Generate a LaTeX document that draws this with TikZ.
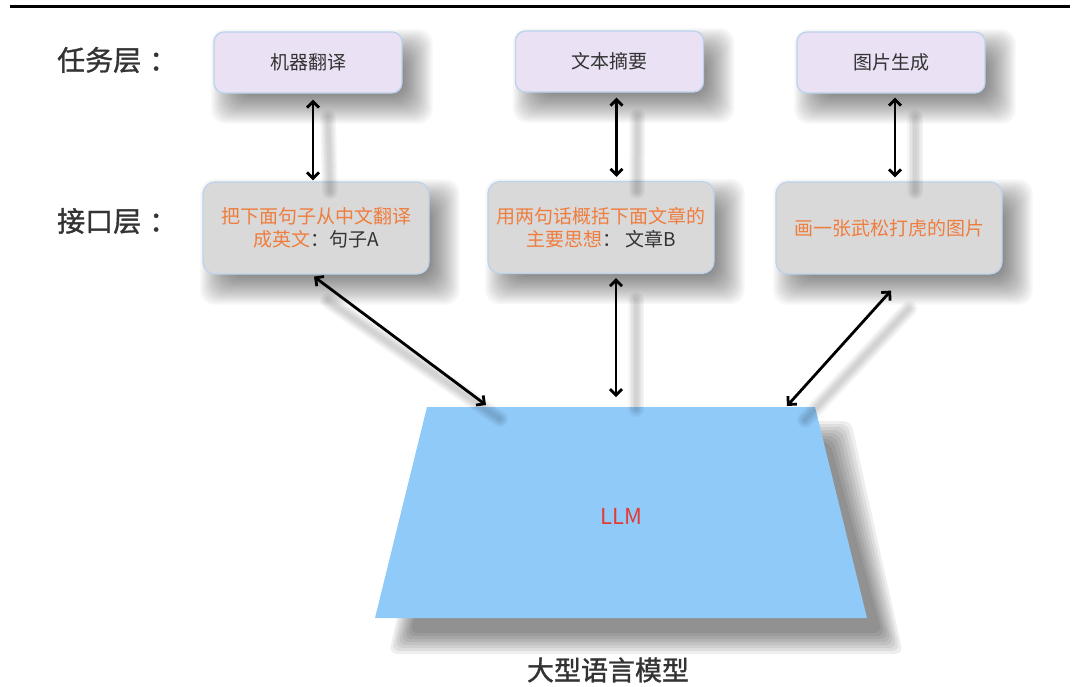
\documentclass[tikz,border=0pt]{standalone}
\usepackage{fontspec}
\newfontfamily\cjk{Noto Sans CJK SC}
\newfontfamily\cjkb[FakeBold=1.2]{Noto Sans CJK SC}
\usetikzlibrary{arrows.meta,calc}
\pgfdeclarelayer{bg}
\pgfsetlayers{bg,main}
\definecolor{lav}{HTML}{EAE1F4}
\definecolor{bord}{HTML}{BAD3EC}
\definecolor{gbox}{HTML}{D9D9D9}
\definecolor{org}{HTML}{EF7D3E}
\definecolor{txt}{HTML}{333333}
\definecolor{llmblue}{HTML}{90CAF9}
\definecolor{llmred}{HTML}{E53935}
\newcommand\boxshade[1]{%
  \foreach \e in {-12,-10,...,16}{
    \fill[black, opacity=0.035, rounded corners=14pt]
      ($(#1.north west)+(14-\e,14-\e)$) rectangle ($(#1.south east)+(14+\e,14+\e)$);
  }}
\begin{document}
\begin{tikzpicture}[x=1pt,y=-1pt,
  taskbox/.style={draw=bord, line width=1.2pt, fill=lav, rounded corners=10pt,
    minimum width=188pt, minimum height=61pt, inner sep=0pt,
    font=\cjk\fontsize{19}{23}\selectfont, text=txt},
  ifbox/.style={draw=bord, line width=1.2pt, fill=gbox, rounded corners=12pt,
    minimum width=226pt, minimum height=92pt, inner sep=0pt, align=center,
    font=\cjk\fontsize{19}{23}\selectfont, text=org},
  lbl/.style={font=\cjkb\fontsize{28}{30}\selectfont, text=txt, anchor=west, inner sep=0pt},
  arr/.style={line width=2.8pt, draw=black, {Straight Barb[length=6pt,width=12pt]}-{Straight Barb[length=6pt,width=12pt]}},
  ashade/.style={line width=#1, draw=black, opacity=0.035, line cap=round},
]
\begin{pgfonlayer}{bg}
\useasboundingbox (0,0) rectangle (1077,686);
\fill[white] (0,0) rectangle (1077,686);
\end{pgfonlayer}
\draw[line width=3pt] (10,6) -- (1070,6);

% labels
\node[lbl] (lt) at (57,60) {任务层\kern8pt：};
\node[lbl] (li) at (57,221) {接口层\kern8pt：};

% task boxes
\node[taskbox] (t1) at (308,62.5) {机器翻译};
\node[taskbox] (t2) at (609.5,61.5) {文本摘要};
\node[taskbox] (t3) at (891,62.5) {图片生成};

% interface boxes
\node[ifbox] (i1) at (316,228) {把下面句子从中文翻译\\成英文{\color{txt}：句子A}};
\node[ifbox] (i2) at (601,227.5) {用两句话概括下面文章的\\主要思想{\color{txt} ： 文章B}};
\node[ifbox] (i3) at (889,228) {画一张武松打虎的图片};

\begin{pgfonlayer}{bg}
\boxshade{t1}\boxshade{t2}\boxshade{t3}
\boxshade{i1}\boxshade{i2}\boxshade{i3}
% trapezoid shadow
\foreach \e in {-10,-7,...,11}{
  \fill[black, opacity=0.065, rounded corners=8pt]
    (427+25-\e,407+25-\e) -- (815+25+\e,407+25-\e) -- (867+25+\e,618+25+\e) -- (375+25-\e,618+25+\e) -- cycle;
}
\end{pgfonlayer}

% LLM trapezoid
\coordinate (p1) at (427,407);
\coordinate (p2) at (815,407);
\coordinate (p3) at (867,618);
\coordinate (p4) at (375,618);
\fill[llmblue] (p1) -- (p2) -- (p3) -- (p4) -- cycle;
\node[font=\cjk\fontsize{22}{24}\selectfont, text=llmred, inner sep=0pt] (llm) at (621,516) {LLM};
\node[font=\cjkb\fontsize{27}{30}\selectfont, text=txt, inner sep=0pt] (cap) at (608,670) {大型语言模型};

\coordinate (e1) at (486,405);
\coordinate (e2) at (616,397);
\coordinate (e3) at (787,406);

% arrow shadows (soft)
\foreach \w in {16pt,13pt,10pt,7pt,4pt}{
  \draw[ashade=\w] ([xshift=20pt,yshift=-24pt]t1.south) -- ([xshift=14pt,yshift=-10pt]i1.north);
  \draw[ashade=\w] ([xshift=28pt,yshift=-24pt]t2.south) -- ([xshift=36pt,yshift=-10pt]i2.north);
  \draw[ashade=\w] ([xshift=24pt,yshift=-24pt]t3.south) -- ([xshift=26pt,yshift=-10pt]i3.north);
  \draw[ashade=\w] ([xshift=12pt,yshift=-26pt]i1.south) -- ([xshift=14pt,yshift=-14pt]e1);
  \draw[ashade=\w] ([xshift=35pt,yshift=-26pt]i2.south) -- ([xshift=20pt,yshift=-12pt]e2);
  \draw[ashade=\w] ([xshift=20pt,yshift=-34pt]i3.south) -- ([xshift=18pt,yshift=-14pt]e3);
}

% arrows
\draw[arr] ([xshift=5pt,yshift=-6pt]t1.south) -- ([xshift=-3pt,yshift=1pt]i1.north);
\draw[arr] ([xshift=7pt,yshift=-5pt]t2.south) -- ([xshift=15.5pt,yshift=4pt]i2.north);
\draw[arr] ([xshift=4pt,yshift=-4pt]t3.south) -- ([xshift=6pt,yshift=4pt]i3.north);
\draw[arr] ([xshift=-2pt,yshift=-2pt]i1.south) -- (e1);
\draw[arr] ([xshift=15pt,yshift=-4pt]i2.south) -- (e2);
\draw[arr] ([xshift=2pt,yshift=-16pt]i3.south) -- (e3);
\end{tikzpicture}
\end{document}
